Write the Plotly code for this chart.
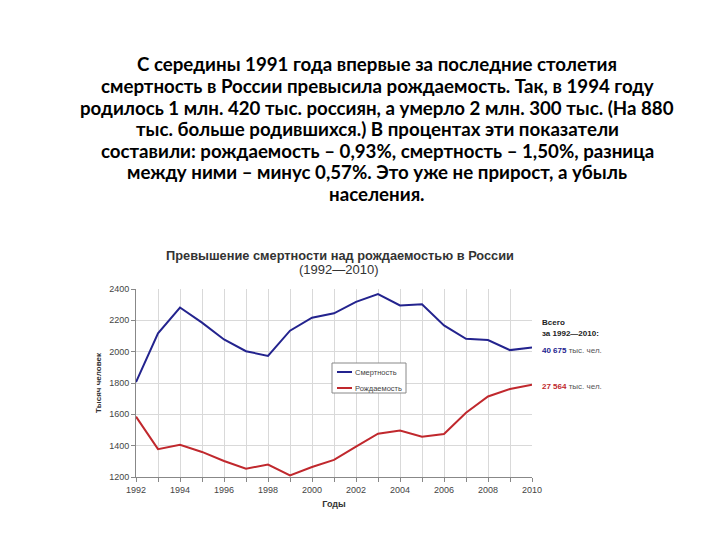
import plotly.graph_objects as go

years = list(range(1992, 2011))
deaths = [1806, 2117, 2282, 2185, 2078, 2003, 1973, 2134, 2217, 2245,
          2318, 2368, 2295, 2303, 2168, 2082, 2074, 2010, 2027]
births = [1585, 1378, 1405, 1360, 1302, 1253, 1279, 1210, 1264, 1309,
          1394, 1476, 1497, 1457, 1474, 1610, 1714, 1762, 1789]
series_names = ["Смертность", "Рождаемость"]
y_ticks = [1200, 1400, 1600, 1800, 2000, 2200, 2400]
x_labels = [str(y) if y % 2 == 0 else "" for y in years]

paragraph = [
    "С середины 1991 года впервые за последние столетия",
    "смертность в России превысила рождаемость. Так, в 1994 году",
    "родилось 1 млн. 420 тыс. россиян, а умерло 2 млн. 300 тыс. (На 880",
    "тыс. больше родившихся.) В процентах эти показатели",
    "составили: рождаемость – 0,93%, смертность – 1,50%, разница",
    "между ними – минус 0,57%. Это уже не прирост, а убыль",
    "населения.",
]
chart_title = "Превышение смертности над рождаемостью в России"
chart_subtitle = "(1992—2010)"
total_label = ["Всего", "за 1992—2010:"]
totals = ["40 675", "27 564"]

BLUE = "#23238e"
RED = "#c0282d"
GRAY = "#444444"

fig = go.Figure()
fig.add_trace(go.Scatter(x=years, y=deaths, mode="lines", name=series_names[0],
                         line=dict(color=BLUE, width=2), showlegend=False))
fig.add_trace(go.Scatter(x=years, y=births, mode="lines", name=series_names[1],
                         line=dict(color=RED, width=2), showlegend=False))

W, H = 720, 540
L, R, T, B = 136, 532, 289, 477


def px(xp):
    return (xp - L) / (R - L)


def py(yp):
    return (B - yp) / (B - T)


fig.update_layout(
    width=W, height=H,
    margin=dict(l=L, r=W - R, t=T, b=H - B),
    paper_bgcolor="white", plot_bgcolor="white",
    font=dict(family="Liberation Sans, Arial, sans-serif", size=9, color=GRAY),
    showlegend=False,
)
fig.update_xaxes(range=[1992, 2010], tickvals=years, ticktext=x_labels,
                 showgrid=True, gridcolor="#d9d9d9", gridwidth=1,
                 showline=True, linecolor="#888888", ticks="outside", ticklen=4,
                 tickcolor="#888888", zeroline=False,
                 title=dict(text="<b>Годы</b>", font=dict(size=9, color="#333333"), standoff=6))
fig.update_yaxes(range=[1200, 2400], tickvals=y_ticks,
                 showgrid=True, gridcolor="#d9d9d9", gridwidth=1,
                 showline=True, linecolor="#888888", ticks="outside", ticklen=4,
                 tickcolor="#888888", zeroline=False,
                 title=dict(text="<b>Тысяч человек</b>", font=dict(size=8, color="#333333"), standoff=6))

ann = []
line_y = [64, 86, 107.5, 129, 150.5, 172, 193.5]
for txt, yy in zip(paragraph, line_y):
    ann.append(dict(text="<b>" + txt + "</b>", x=px(377), y=py(yy), xref="paper", yref="paper",
                    xanchor="center", yanchor="middle", showarrow=False,
                    font=dict(family="Lato, Open Sans, sans-serif", size=18.7, color="#000000")))
ann.append(dict(text="<b>" + chart_title + "</b>", x=px(340), y=py(255), xref="paper", yref="paper",
                xanchor="center", yanchor="middle", showarrow=False,
                font=dict(size=12.8, color="#333333")))
ann.append(dict(text=chart_subtitle, x=px(339), y=py(269), xref="paper", yref="paper",
                xanchor="center", yanchor="middle", showarrow=False,
                font=dict(size=13, color="#333333")))
ann.append(dict(text="<b>" + total_label[0] + "</b>", x=px(540), y=py(322.5), xref="paper", yref="paper",
                xanchor="left", yanchor="middle", showarrow=False, font=dict(size=8, color="#222222")))
ann.append(dict(text="<b>" + total_label[1] + "</b>", x=px(540), y=py(333), xref="paper", yref="paper",
                xanchor="left", yanchor="middle", showarrow=False, font=dict(size=8, color="#222222")))
ann.append(dict(text="<b><span style='color:%s'>%s</span></b> тыс. чел." % (BLUE, totals[0]),
                x=px(540), y=py(350), xref="paper", yref="paper",
                xanchor="left", yanchor="middle", showarrow=False, font=dict(size=8, color="#555555")))
ann.append(dict(text="<b><span style='color:%s'>%s</span></b> тыс. чел." % (RED, totals[1]),
                x=px(540), y=py(386.5), xref="paper", yref="paper",
                xanchor="left", yanchor="middle", showarrow=False, font=dict(size=8, color="#555555")))

# custom compact legend box
shapes = [dict(type="rect", xref="paper", yref="paper", x0=px(332), x1=px(406), y0=py(363), y1=py(393),
               line=dict(color="#888888", width=1), fillcolor="white", layer="above")]
for name, col, yy in [(series_names[0], BLUE, 372), (series_names[1], RED, 388)]:
    shapes.append(dict(type="line", xref="paper", yref="paper", x0=px(337), x1=px(352), y0=py(yy), y1=py(yy),
                       line=dict(color=col, width=2), layer="above"))
    ann.append(dict(text=name, x=px(352.5), y=py(yy), xref="paper", yref="paper",
                    xanchor="left", yanchor="middle", showarrow=False, font=dict(size=7.5, color="#444444")))
fig.update_layout(annotations=ann, shapes=shapes)

fig.write_html("out.html")
